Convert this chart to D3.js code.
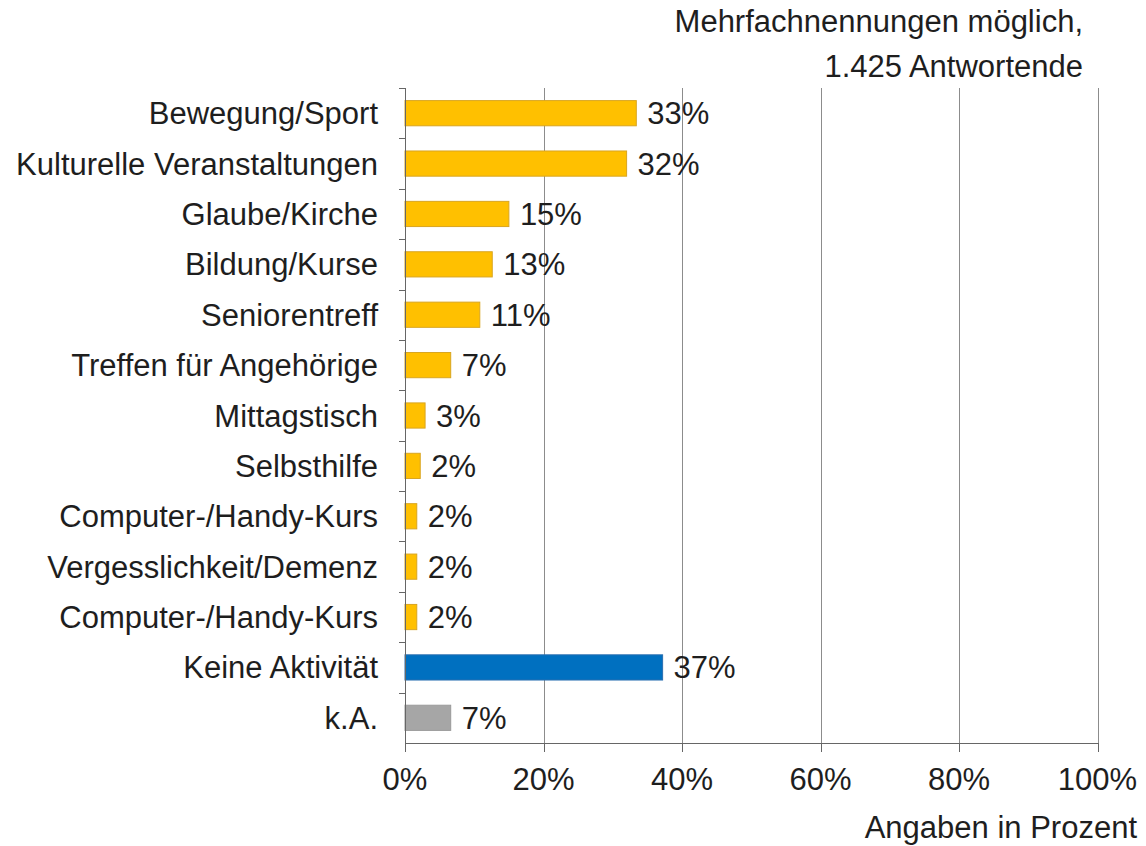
<!DOCTYPE html>
<html>
<head>
<meta charset="utf-8">
<script src="https://cdn.jsdelivr.net/npm/d3@7"></script>
<style>
  html, body { margin: 0; padding: 0; background: #fff; }
  text { font-family: "Liberation Sans", Arial, sans-serif; fill: #1e1e1e; }
</style>
</head>
<body>
<div id="app"></div>
<script>
// chart data
const categories = [
  'Bewegung/Sport',
  'Kulturelle Veranstaltungen',
  'Glaube/Kirche',
  'Bildung/Kurse',
  'Seniorentreff',
  'Treffen für Angehörige',
  'Mittagstisch',
  'Selbsthilfe',
  'Computer-/Handy-Kurs',
  'Vergesslichkeit/Demenz',
  'Computer-/Handy-Kurs ',
  'Keine Aktivität',
  'k.A.'
];
const values = [33.4, 32.0, 15.0, 12.6, 10.8, 6.6, 2.9, 2.2, 1.7, 1.7, 1.7, 37.2, 6.6];
const groups = ['act', 'act', 'act', 'act', 'act', 'act', 'act', 'act', 'act', 'act', 'act', 'none', 'na'];
const xTicks = [0, 20, 40, 60, 80, 100];
const noteLines = ['Mehrfachnennungen möglich,', '1.425 Antwortende'];
const unitLabel = 'Angaben in Prozent';

const W = 1146;
const H = 846;
const fontSize = 31;

const svg = d3.select('#app')
  .append('svg')
  .attr('width', W)
  .attr('height', H);

const x = d3.scaleLinear().domain([0, 100]).range([405, 1097.5]);
const y = d3.scaleBand()
  .domain(categories)
  .range([88, 743])
  .paddingInner(0.5)
  .paddingOuter(0.25);

const fill = d3.scaleOrdinal()
  .domain(['act', 'none', 'na'])
  .range(['#FFC000', '#0070C0', '#A6A6A6']);
const edge = d3.scaleOrdinal()
  .domain(['act', 'none', 'na'])
  .range(['#D9A520', '#2A6FB0', '#9A9A9A']);

const rows = categories.map((c, i) => ({ cat: c, value: values[i], group: groups[i] }));

// gridlines
svg.append('g')
  .selectAll('line')
  .data(xTicks.filter((t) => t > 0))
  .join('line')
  .attr('x1', (d) => Math.round(x(d)) + 0.5)
  .attr('x2', (d) => Math.round(x(d)) + 0.5)
  .attr('y1', 88)
  .attr('y2', 743)
  .attr('stroke', '#8c8c8c')
  .attr('stroke-width', 1);

// bars
svg.append('g')
  .selectAll('rect')
  .data(rows)
  .join('rect')
  .attr('x', x(0))
  .attr('y', (d) => y(d.cat))
  .attr('width', (d) => x(d.value) - x(0))
  .attr('height', y.bandwidth())
  .attr('fill', (d) => fill(d.group))
  .attr('stroke', (d) => edge(d.group))
  .attr('stroke-width', 1);

// value labels
svg.append('g')
  .selectAll('text')
  .data(rows)
  .join('text')
  .attr('x', (d) => x(d.value) + 11)
  .attr('y', (d) => y(d.cat) + y.bandwidth() / 2 + 11)
  .attr('font-size', fontSize)
  .text((d) => Math.round(d.value) + '%');

// y axis: line, ticks at band boundaries, labels
const yAxis = svg.append('g');
yAxis.append('line')
  .attr('x1', 405.5).attr('x2', 405.5)
  .attr('y1', 88).attr('y2', 743)
  .attr('stroke', '#666');
const bounds = d3.range(categories.length).map((i) => 88 + i * y.step());
yAxis.selectAll('.tk')
  .data(bounds)
  .join('line')
  .attr('class', 'tk')
  .attr('x1', 399).attr('x2', 405)
  .attr('y1', (d) => Math.round(d) + 0.5)
  .attr('y2', (d) => Math.round(d) + 0.5)
  .attr('stroke', '#666');
yAxis.selectAll('text')
  .data(categories)
  .join('text')
  .attr('x', 378)
  .attr('y', (d) => y(d) + y.bandwidth() / 2 + 11)
  .attr('text-anchor', 'end')
  .attr('font-size', fontSize)
  .text((d) => d.trim());

// x axis
const xAxis = svg.append('g').attr('transform', 'translate(0,743)');
xAxis.append('line')
  .attr('x1', 405).attr('x2', 1098)
  .attr('y1', 0.5).attr('y2', 0.5)
  .attr('stroke', '#666');
xAxis.selectAll('.tk')
  .data(xTicks)
  .join('line')
  .attr('class', 'tk')
  .attr('x1', (d) => Math.round(x(d)) + 0.5)
  .attr('x2', (d) => Math.round(x(d)) + 0.5)
  .attr('y1', 0).attr('y2', 9)
  .attr('stroke', '#666');
xAxis.selectAll('text')
  .data(xTicks)
  .join('text')
  .attr('x', (d) => x(d))
  .attr('y', 47)
  .attr('text-anchor', 'middle')
  .attr('font-size', fontSize)
  .text((d) => d + '%');

// notes
svg.append('g')
  .selectAll('text')
  .data(noteLines)
  .join('text')
  .attr('x', 1083)
  .attr('y', (d, i) => 32 + i * 45)
  .attr('text-anchor', 'end')
  .attr('font-size', fontSize)
  .text((d) => d);

svg.append('text')
  .attr('x', 1137)
  .attr('y', 838)
  .attr('text-anchor', 'end')
  .attr('font-size', fontSize)
  .text(unitLabel);
</script>
</body>
</html>
